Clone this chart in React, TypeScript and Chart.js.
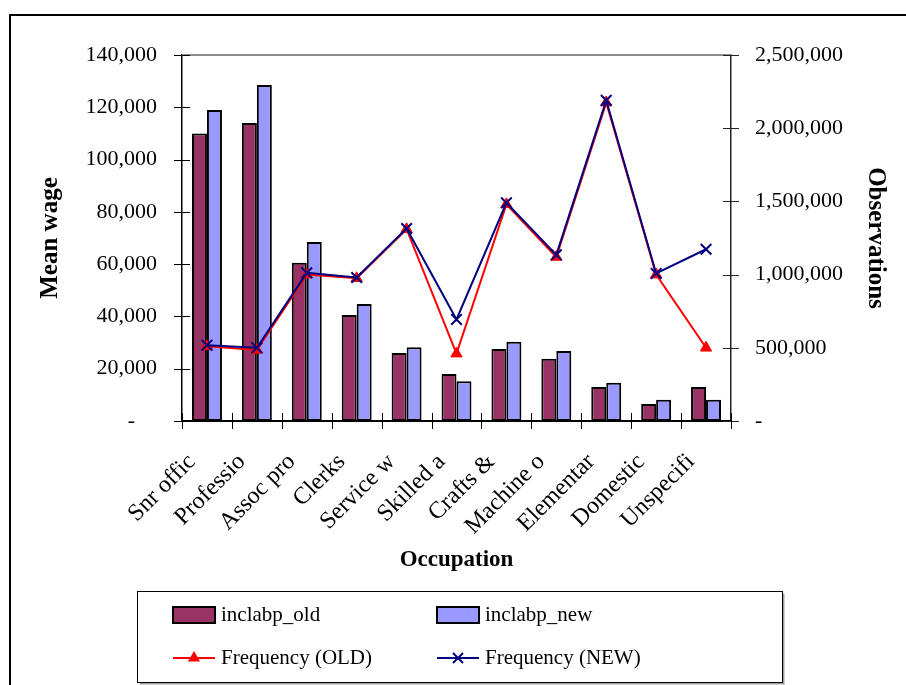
import React, { useEffect, useRef } from "react";
import { Chart, registerables } from "chart.js";

Chart.register(...registerables);

const categories = [
  "Snr offic",
  "Professio",
  "Assoc pro",
  "Clerks",
  "Service w",
  "Skilled a",
  "Crafts &",
  "Machine o",
  "Elementar",
  "Domestic",
  "Unspecifi",
];

const wageOld = [110000, 114000, 60500, 40500, 26000, 18000, 27500, 23800, 13000, 6500, 13000];
const wageNew = [119000, 128500, 68500, 44800, 28200, 15200, 30300, 26800, 14600, 8100, 8100];
const freqOld = [510000, 485000, 1000000, 975000, 1310000, 460000, 1480000, 1120000, 2175000, 1000000, 500000];
const freqNew = [518000, 500000, 1012000, 980000, 1315000, 694000, 1490000, 1135000, 2190000, 1008000, 1173000];

const wageMax = 140000;
const wageStep = 20000;
const obsMax = 2500000;
const obsStep = 500000;

const seriesLabels = ["inclabp_old", "inclabp_new", "Frequency (OLD)", "Frequency (NEW)"];
const axisTitles = { x: "Occupation", y: "Mean wage", y1: "Observations" };

const FONT = '"Liberation Serif", "Times New Roman", serif';

const fmt = (v: number) => (v === 0 ? "-" : v.toLocaleString("en-US"));

const decorPlugin = {
  id: "decor",
  afterDraw(chart: any) {
    const ctx = chart.ctx as CanvasRenderingContext2D;
    const { left, right, top, bottom } = chart.chartArea;
    const xs = chart.scales.x;
    const ys = chart.scales.y;
    const y1s = chart.scales.y1;
    ctx.save();

    // outer frame
    ctx.strokeStyle = "#000";
    ctx.lineWidth = 2;
    ctx.beginPath();
    ctx.moveTo(10, chart.height);
    ctx.lineTo(10, 15);
    ctx.lineTo(chart.width, 15);
    ctx.stroke();

    // plot area top border
    ctx.strokeStyle = "#8c8c8c";
    ctx.lineWidth = 2;
    ctx.beginPath();
    ctx.moveTo(left, top);
    ctx.lineTo(right, top);
    ctx.stroke();

    // cross tick marks
    ctx.strokeStyle = "#000";
    ctx.lineWidth = 1;
    const seg = (x0: number, y0: number, x1: number, y1: number) => {
      ctx.beginPath();
      ctx.moveTo(x0, y0);
      ctx.lineTo(x1, y1);
      ctx.stroke();
    };
    ys.ticks.forEach((t: any) => {
      const py = Math.round(ys.getPixelForValue(t.value)) + 0.5;
      seg(left - 8, py, left + 8, py);
    });
    ctx.strokeStyle = "#222";
    y1s.ticks.forEach((t: any) => {
      const py = Math.round(y1s.getPixelForValue(t.value)) + 0.5;
      seg(right - 8, py, right + 8, py);
    });
    ctx.strokeStyle = "#000";
    const n = categories.length;
    for (let i = 0; i <= n; i++) {
      let px: number;
      if (i === 0) px = left;
      else if (i === n) px = right;
      else px = (xs.getPixelForValue(i - 1) + xs.getPixelForValue(i)) / 2;
      px = Math.round(px) + 0.5;
      seg(px, bottom - 8, px, bottom + 8);
    }

    // legend
    const lx = 137.5, ly = 591.5, lw = 645, lh = 91;
    ctx.fillStyle = "#a0a0a0";
    ctx.fillRect(lx + 2, ly + lh, lw, 2);
    ctx.fillRect(lx + lw, ly + 2, 2, lh);
    ctx.fillStyle = "#fff";
    ctx.fillRect(lx, ly, lw, lh);
    ctx.strokeStyle = "#000";
    ctx.lineWidth = 1;
    ctx.strokeRect(lx, ly, lw, lh);

    const ds = chart.data.datasets;
    const cols = [173, 437];
    const rows = [615, 658];
    ctx.font = `21px ${FONT}`;
    ctx.textBaseline = "middle";
    ctx.textAlign = "left";
    ds.forEach((d: any, i: number) => {
      const cx = cols[i % 2];
      const ry = rows[Math.floor(i / 2)];
      if (d.type === "bar") {
        ctx.fillStyle = d.backgroundColor;
        ctx.fillRect(cx, ry - 8, 42, 16);
        ctx.strokeStyle = "#000";
        ctx.lineWidth = 2;
        ctx.strokeRect(cx, ry - 8, 42, 16);
      } else {
        ctx.strokeStyle = d.borderColor;
        ctx.lineWidth = 2;
        seg(cx, ry, cx + 42, ry);
        const mx = cx + 21;
        if (d.pointStyle === "triangle") {
          const r = 7;
          ctx.fillStyle = d.pointBackgroundColor;
          ctx.beginPath();
          ctx.moveTo(mx, ry - r);
          ctx.lineTo(mx + r * 0.866, ry + r * 0.5);
          ctx.lineTo(mx - r * 0.866, ry + r * 0.5);
          ctx.closePath();
          ctx.fill();
        } else {
          const r = 5;
          ctx.lineWidth = 2;
          seg(mx - r, ry - r, mx + r, ry + r);
          seg(mx - r, ry + r, mx + r, ry - r);
        }
      }
      ctx.fillStyle = "#000";
      ctx.fillText(d.label, cx + 48, ry);
    });

    ctx.restore();
  },
};

export default function App() {
  const ref = useRef<HTMLCanvasElement | null>(null);

  useEffect(() => {
    document.body.style.margin = "0";
    const canvas = ref.current;
    if (!canvas) return;
    Chart.defaults.font.family = FONT;
    Chart.defaults.color = "#000";

    const chart = new Chart(canvas, {
      type: "bar",
      data: {
        labels: categories,
        datasets: [
          {
            type: "bar",
            label: seriesLabels[0],
            data: wageOld,
            yAxisID: "y",
            backgroundColor: "#993366",
            borderColor: "#000",
            borderWidth: 2,
            borderSkipped: false,
            categoryPercentage: 0.6,
            barPercentage: 1.0,
            order: 2,
          },
          {
            type: "bar",
            label: seriesLabels[1],
            data: wageNew,
            yAxisID: "y",
            backgroundColor: "#9999FF",
            borderColor: "#000",
            borderWidth: 2,
            borderSkipped: false,
            categoryPercentage: 0.6,
            barPercentage: 1.0,
            order: 3,
          },
          {
            type: "line",
            label: seriesLabels[2],
            data: freqOld,
            yAxisID: "y1",
            borderColor: "#FF0000",
            backgroundColor: "#FF0000",
            borderWidth: 2,
            tension: 0,
            pointStyle: "triangle",
            pointRadius: 6.5,
            pointBackgroundColor: "#FF0000",
            pointBorderColor: "#FF0000",
            pointBorderWidth: 1,
            order: 1,
          },
          {
            type: "line",
            label: seriesLabels[3],
            data: freqNew,
            yAxisID: "y1",
            borderColor: "#000080",
            backgroundColor: "#000080",
            borderWidth: 2,
            tension: 0,
            pointStyle: "crossRot",
            pointRadius: 7.5,
            pointBorderColor: "#000080",
            pointBorderWidth: 2,
            order: 0,
          },
        ] as any,
      },
      options: {
        responsive: false,
        animation: false,
        maintainAspectRatio: false,
        layout: { padding: { top: 55, left: 0, right: 0, bottom: 0 } },
        plugins: {
          legend: { display: false },
          tooltip: { enabled: false },
          title: { display: false },
        },
        scales: {
          x: {
            type: "category",
            offset: true,
            grid: { display: false, drawTicks: false, offset: true },
            border: { display: true, color: "#000", width: 2 },
            ticks: {
              autoSkip: false,
              maxRotation: 45,
              minRotation: 45,
              padding: 27,
              labelOffset: -15,
              font: { size: 24, family: FONT },
              color: "#000",
            },
            title: {
              display: true,
              text: axisTitles.x,
              font: { size: 23, weight: "bold", family: FONT },
              color: "#000",
              padding: { top: 0, bottom: 111 },
            },
            afterFit(scale: any) {
              scale.height = 264;
            },
          },
          y: {
            type: "linear",
            position: "left",
            min: 0,
            max: wageMax,
            grid: { display: false, drawTicks: false },
            border: { display: true, color: "#000", width: 1.5 },
            ticks: {
              stepSize: wageStep,
              padding: 25,
              font: { size: 22, family: FONT },
              color: "#000",
              callback: (v: any) => (Number(v) === 0 ? "-    " : fmt(Number(v))),
            },
            title: {
              display: true,
              text: axisTitles.y,
              font: { size: 25, weight: "bold", family: FONT },
              color: "#000",
              padding: { top: 36, bottom: 0 },
            },
            afterFit(scale: any) {
              scale.width = 182;
            },
          },
          y1: {
            type: "linear",
            position: "right",
            min: 0,
            max: obsMax,
            grid: { display: false, drawTicks: false },
            border: { display: true, color: "#222", width: 1.5 },
            ticks: {
              stepSize: obsStep,
              padding: 24,
              font: { size: 22, family: FONT },
              color: "#000",
              callback: (v: any) => fmt(Number(v)),
            },
            title: {
              display: true,
              text: axisTitles.y1,
              font: { size: 25, weight: "bold", family: FONT },
              color: "#000",
              padding: { top: 16, bottom: 0 },
            },
            afterFit(scale: any) {
              scale.width = 175;
            },
          },
        },
      } as any,
      plugins: [decorPlugin],
    });

    return () => chart.destroy();
  }, []);

  return (
    <canvas
      ref={ref}
      width={906}
      height={685}
      style={{ display: "block", width: 906, height: 685 }}
    />
  );
}
